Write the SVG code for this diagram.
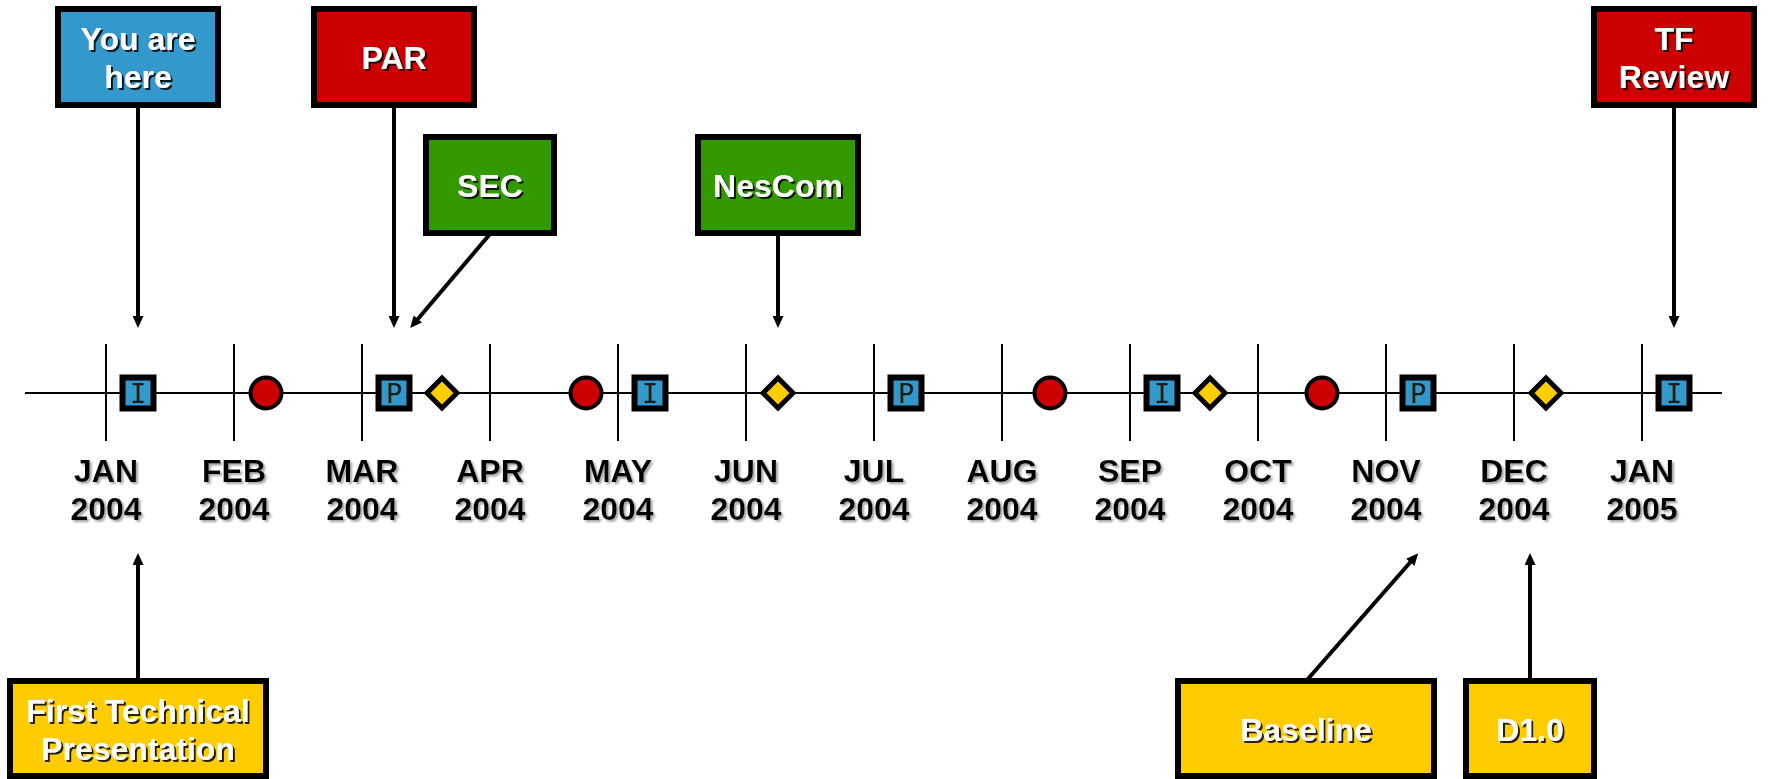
<svg xmlns="http://www.w3.org/2000/svg" width="1791" height="779" viewBox="0 0 1791 779">
  <style>
    .box { stroke: #000; stroke-width: 6; }
    .blue { fill: #3399CC; }
    .red { fill: #CC0000; }
    .green { fill: #339900; }
    .yellow { fill: #FFCC00; }
    .label { font-family: "Liberation Sans", Arial, sans-serif; font-weight: bold; font-size: 32px; fill: #fff; text-anchor: middle; filter: url(#darkShadow); }
    .month { font-family: "Liberation Sans", Arial, sans-serif; font-weight: bold; font-size: 32px; fill: #000; text-anchor: middle; filter: url(#greyShadow); }
    .axis { stroke: #000; stroke-width: 2; fill: none; }
    .conn { stroke: #000; stroke-width: 4; fill: none; marker-end: url(#arrow); }
    .sq { fill: #3399CC; stroke: #000; stroke-width: 6; }
    .dot { fill: #CC0000; stroke: #000; stroke-width: 4; }
    .dia { fill: #FFCC00; stroke: #000; stroke-width: 5; stroke-linejoin: miter; }
    .glyph { font-family: "DejaVu Sans Mono", "Liberation Mono", monospace; font-size: 27px; fill: #1a1a1a; text-anchor: middle; }
  </style>
  <defs>
    <marker id="arrow" markerUnits="userSpaceOnUse" markerWidth="12" markerHeight="11" refX="2" refY="5.5" orient="auto">
      <path d="M0,0 L12,5.5 L0,11 z" fill="#000"/>
    </marker>
    <filter id="darkShadow" x="-10%" y="-20%" width="130%" height="150%">
      <feDropShadow dx="2" dy="2" stdDeviation="0.6" flood-color="#000" flood-opacity="0.85"/>
    </filter>
    <filter id="greyShadow" x="-10%" y="-20%" width="130%" height="150%">
      <feDropShadow dx="2" dy="2" stdDeviation="1" flood-color="#9a9a9a" flood-opacity="0.9"/>
    </filter>
    <rect id="sqShape" x="-15.5" y="-15.5" width="31" height="31"/>
  </defs>
  <rect width="1791" height="779" fill="#fff"/>

  <!-- timeline axis and month ticks -->
  <g id="timeline">
    <line class="axis" x1="25" y1="393" x2="1722" y2="393"/>
    <path class="axis" d="M106,344V441 M234,344V441 M362,344V441 M490,344V441 M618,344V441 M746,344V441 M874,344V441 M1002,344V441 M1130,344V441 M1258,344V441 M1386,344V441 M1514,344V441 M1642,344V441"/>
    <text class="month" x="106" y="482">JAN<tspan x="106" dy="38">2004</tspan></text>
    <text class="month" x="234" y="482">FEB<tspan x="234" dy="38">2004</tspan></text>
    <text class="month" x="362" y="482">MAR<tspan x="362" dy="38">2004</tspan></text>
    <text class="month" x="490" y="482">APR<tspan x="490" dy="38">2004</tspan></text>
    <text class="month" x="618" y="482">MAY<tspan x="618" dy="38">2004</tspan></text>
    <text class="month" x="746" y="482">JUN<tspan x="746" dy="38">2004</tspan></text>
    <text class="month" x="874" y="482">JUL<tspan x="874" dy="38">2004</tspan></text>
    <text class="month" x="1002" y="482">AUG<tspan x="1002" dy="38">2004</tspan></text>
    <text class="month" x="1130" y="482">SEP<tspan x="1130" dy="38">2004</tspan></text>
    <text class="month" x="1258" y="482">OCT<tspan x="1258" dy="38">2004</tspan></text>
    <text class="month" x="1386" y="482">NOV<tspan x="1386" dy="38">2004</tspan></text>
    <text class="month" x="1514" y="482">DEC<tspan x="1514" dy="38">2004</tspan></text>
    <text class="month" x="1642" y="482">JAN<tspan x="1642" dy="38">2005</tspan></text>
  </g>

  <!-- event markers on the axis -->
  <g id="markers">
    <g id="mk-i1" transform="translate(138,393)"><use href="#sqShape" class="sq"/><text class="glyph" y="10">I</text></g>
    <g id="mk-i2" transform="translate(650,393)"><use href="#sqShape" class="sq"/><text class="glyph" y="10">I</text></g>
    <g id="mk-i3" transform="translate(1162,393)"><use href="#sqShape" class="sq"/><text class="glyph" y="10">I</text></g>
    <g id="mk-i4" transform="translate(1674,393)"><use href="#sqShape" class="sq"/><text class="glyph" y="10">I</text></g>
    <g id="mk-p1" transform="translate(394,393)"><use href="#sqShape" class="sq"/><text class="glyph" y="10">P</text></g>
    <g id="mk-p2" transform="translate(906,393)"><use href="#sqShape" class="sq"/><text class="glyph" y="10">P</text></g>
    <g id="mk-p3" transform="translate(1418,393)"><use href="#sqShape" class="sq"/><text class="glyph" y="10">P</text></g>
    <circle id="mk-c1" class="dot" cx="266" cy="393" r="15.5"/>
    <circle id="mk-c2" class="dot" cx="586" cy="393" r="15.5"/>
    <circle id="mk-c3" class="dot" cx="1050" cy="393" r="15.5"/>
    <circle id="mk-c4" class="dot" cx="1322" cy="393" r="15.5"/>
    <path id="mk-d1" class="dia" d="M442,378 L457,393 L442,408 L427,393 z"/>
    <path id="mk-d2" class="dia" d="M778,378 L793,393 L778,408 L763,393 z"/>
    <path id="mk-d3" class="dia" d="M1210,378 L1225,393 L1210,408 L1195,393 z"/>
    <path id="mk-d4" class="dia" d="M1546,378 L1561,393 L1546,408 L1531,393 z"/>
  </g>

  <!-- connectors from callouts to the axis -->
  <g id="connectors">
    <line class="conn" x1="138" y1="106" x2="138" y2="318"/>
    <line class="conn" x1="394" y1="106" x2="394" y2="318"/>
    <line class="conn" x1="490" y1="234" x2="416.6" y2="320.5"/>
    <line class="conn" x1="778" y1="234" x2="778" y2="318"/>
    <line class="conn" x1="1674" y1="106" x2="1674" y2="318"/>
    <line class="conn" x1="138" y1="680" x2="138" y2="563"/>
    <line class="conn" x1="1307" y1="680" x2="1411.6" y2="560.8"/>
    <line class="conn" x1="1530" y1="680" x2="1530" y2="563"/>
  </g>

  <!-- callout boxes -->
  <g id="you-are-here">
    <rect class="box blue" x="58" y="9" width="160" height="96"/>
    <text class="label" x="138" y="50">You are<tspan x="138" dy="38">here</tspan></text>
  </g>
  <g id="par">
    <rect class="box red" x="314" y="9" width="160" height="96"/>
    <text class="label" x="394" y="69">PAR</text>
  </g>
  <g id="sec">
    <rect class="box green" x="426" y="137" width="128" height="96"/>
    <text class="label" x="490" y="197">SEC</text>
  </g>
  <g id="nescom">
    <rect class="box green" x="698" y="137" width="160" height="96"/>
    <text class="label" x="778" y="197">NesCom</text>
  </g>
  <g id="tf-review">
    <rect class="box red" x="1594" y="9" width="160" height="96"/>
    <text class="label" x="1674" y="50">TF<tspan x="1674" dy="38">Review</tspan></text>
  </g>
  <g id="first-technical">
    <rect class="box yellow" x="10" y="681" width="256" height="95"/>
    <text class="label" x="138" y="722">First Technical<tspan x="138" dy="38">Presentation</tspan></text>
  </g>
  <g id="baseline">
    <rect class="box yellow" x="1178" y="681" width="256" height="95"/>
    <text class="label" x="1306" y="741">Baseline</text>
  </g>
  <g id="d10">
    <rect class="box yellow" x="1466" y="681" width="128" height="95"/>
    <text class="label" x="1530" y="741">D1.0</text>
  </g>
</svg>
